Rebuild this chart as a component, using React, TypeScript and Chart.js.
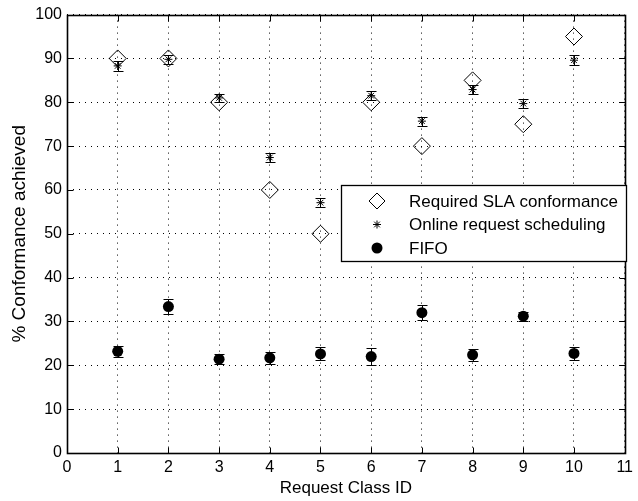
import React, { useEffect, useRef } from 'react';
import { Chart, registerables } from 'chart.js';

Chart.register(...registerables);

const classIds = [1, 2, 3, 4, 5, 6, 7, 8, 9, 10];
const requiredSla = [90, 90, 80, 60, 50, 80, 70, 85, 75, 95];
const onlineSched = [88.3, 89.8, 81, 67.4, 57.1, 81.5, 75.7, 82.9, 79.7, 89.6];
const onlineErr = [1.1, 1.0, 1.0, 1.1, 1.0, 1.0, 1.0, 1.0, 1.0, 1.2];
const fifo = [23.2, 33.4, 21.4, 21.7, 22.6, 22.0, 32.0, 22.4, 31.2, 22.7];
const fifoErr = [1.25, 1.8, 1.2, 1.4, 1.5, 1.9, 1.7, 1.4, 1.0, 1.5];
const seriesNames = ['Required SLA conformance', 'Online request scheduling', 'FIFO'];
const xTicks = [0, 1, 2, 3, 4, 5, 6, 7, 8, 9, 10, 11];
const yTicks = [0, 10, 20, 30, 40, 50, 60, 70, 80, 90, 100];

const FONT = '"Liberation Sans", Arial, sans-serif';

function drawMarker(ctx: CanvasRenderingContext2D, kind: number, x: number, y: number) {
  ctx.save();
  ctx.strokeStyle = '#000';
  ctx.fillStyle = '#000';
  ctx.lineWidth = 1;
  if (kind === 0) {
    const r = 8;
    ctx.beginPath();
    ctx.moveTo(x, y - r);
    ctx.lineTo(x + r, y);
    ctx.lineTo(x, y + r);
    ctx.lineTo(x - r, y);
    ctx.closePath();
    ctx.stroke();
  } else if (kind === 1) {
    const r = 4;
    ctx.beginPath();
    ctx.moveTo(x - r, y); ctx.lineTo(x + r, y);
    ctx.moveTo(x, y - r); ctx.lineTo(x, y + r);
    const d = r * Math.SQRT1_2;
    ctx.moveTo(x - d, y - d); ctx.lineTo(x + d, y + d);
    ctx.moveTo(x - d, y + d); ctx.lineTo(x + d, y - d);
    ctx.stroke();
  } else {
    ctx.beginPath();
    ctx.arc(x, y, 5.5, 0, Math.PI * 2);
    ctx.fill();
  }
  ctx.restore();
}

const errorBarPlugin = {
  id: 'errorBars',
  afterDatasetsDraw(chart: any) {
    const ctx = chart.ctx;
    const xs = chart.scales.x;
    const ys = chart.scales.y;
    const sets = [
      { vals: onlineSched, errs: onlineErr },
      { vals: fifo, errs: fifoErr },
    ];
    ctx.save();
    ctx.strokeStyle = '#000';
    ctx.lineWidth = 1;
    sets.forEach((s) => {
      s.vals.forEach((v, i) => {
        const px = Math.round(xs.getPixelForValue(classIds[i])) + 0.5;
        const yt = Math.round(ys.getPixelForValue(v + s.errs[i])) + 0.5;
        const yb = Math.round(ys.getPixelForValue(v - s.errs[i])) + 0.5;
        ctx.beginPath();
        ctx.moveTo(px, yt); ctx.lineTo(px, yb);
        ctx.moveTo(px - 5, yt); ctx.lineTo(px + 5, yt);
        ctx.moveTo(px - 5, yb); ctx.lineTo(px + 5, yb);
        ctx.stroke();
      });
    });
    ctx.restore();
  },
};

const framePlugin = {
  id: 'frame',
  afterDraw(chart: any) {
    const ctx = chart.ctx;
    const { left, right, top, bottom } = chart.chartArea;
    const xs = chart.scales.x;
    const ys = chart.scales.y;
    const L = Math.round(left) + 0.5;
    const R = Math.round(right) + 0.5;
    const T = Math.round(top) + 0.5;
    const B = Math.round(bottom) + 0.5;
    ctx.save();
    ctx.strokeStyle = '#000';
    ctx.lineWidth = 1;
    ctx.beginPath();
    xTicks.forEach((t) => {
      const px = Math.round(xs.getPixelForValue(t)) + 0.5;
      ctx.moveTo(px, B); ctx.lineTo(px, B - 6);
      ctx.moveTo(px, T); ctx.lineTo(px, T + 6);
    });
    yTicks.forEach((t) => {
      const py = Math.round(ys.getPixelForValue(t)) + 0.5;
      ctx.moveTo(L, py); ctx.lineTo(L + 6, py);
      ctx.moveTo(R, py); ctx.lineTo(R - 6, py);
    });
    ctx.stroke();
    ctx.lineWidth = 1.6;
    ctx.strokeRect(L, T, R - L, B - T);

    // legend
    const bx = 341.5, by = 185.5, bw = 285, bh = 76;
    ctx.fillStyle = '#fff';
    ctx.fillRect(bx, by, bw, bh);
    ctx.lineWidth = 1.3;
    ctx.strokeStyle = '#000';
    ctx.strokeRect(bx, by, bw, bh);
    ctx.font = '17px ' + FONT;
    ctx.fillStyle = '#000';
    ctx.textBaseline = 'middle';
    ctx.textAlign = 'left';
    seriesNames.forEach((name, i) => {
      const ry = 201 + i * 23.5;
      drawMarker(ctx, i, 377, ry);
      ctx.fillStyle = '#000';
      ctx.fillText(name, 409, ry + 1);
    });
    ctx.restore();
  },
};

export default function App() {
  const ref = useRef<HTMLCanvasElement | null>(null);
  useEffect(() => {
    document.body.style.margin = '0';
    const canvas = ref.current!;
    const chart = new Chart(canvas, {
      type: 'scatter',
      data: {
        datasets: [
          {
            label: seriesNames[0],
            data: classIds.map((x, i) => ({ x, y: requiredSla[i] })),
            pointStyle: 'rectRot',
            pointRadius: 8.5,
            borderColor: '#000',
            backgroundColor: 'rgba(0,0,0,0)',
            pointBorderWidth: 1,
          },
          {
            label: seriesNames[1],
            data: classIds.map((x, i) => ({ x, y: onlineSched[i] })),
            pointStyle: 'star',
            pointRadius: 4,
            borderColor: '#000',
            backgroundColor: '#000',
            pointBorderWidth: 1,
          },
          {
            label: seriesNames[2],
            data: classIds.map((x, i) => ({ x, y: fifo[i] })),
            pointStyle: 'circle',
            pointRadius: 5.5,
            borderColor: '#000',
            backgroundColor: '#000',
            pointBorderWidth: 0,
          },
        ],
      },
      options: {
        responsive: false,
        animation: false,
        devicePixelRatio: 1,
        layout: { padding: { left: 0, right: 9, top: 11, bottom: 0 } },
        plugins: { legend: { display: false }, tooltip: { enabled: false } },
        scales: {
          x: {
            type: 'linear',
            min: 0,
            max: 11,
            afterFit: (s: any) => { s.height = 48; },
            afterBuildTicks: (s: any) => { s.ticks = xTicks.map((v) => ({ value: v })); },
            ticks: { stepSize: 1, padding: 5, color: '#000', font: { family: FONT, size: 16 } },
            grid: { color: '#000', lineWidth: 1, drawTicks: false },
            border: { display: false, dash: [1, 5] },
            title: {
              display: true,
              text: 'Request Class ID',
              color: '#000',
              font: { family: FONT, size: 17 },
              padding: { top: 0, bottom: 2 },
            },
          },
          y: {
            type: 'linear',
            min: 0,
            max: 100,
            afterFit: (s: any) => { s.width = 67; },
            afterBuildTicks: (s: any) => { s.ticks = yTicks.map((v) => ({ value: v })); },
            ticks: { stepSize: 10, padding: 5, color: '#000', font: { family: FONT, size: 16 } },
            grid: { color: '#000', lineWidth: 1, drawTicks: false },
            border: { display: false, dash: [1, 5] },
            title: {
              display: true,
              text: '% Conformance achieved',
              color: '#000',
              font: { family: FONT, size: 19 },
              padding: { top: 8, bottom: 0 },
            },
          },
        },
      },
      plugins: [errorBarPlugin, framePlugin],
    });
    return () => chart.destroy();
  }, []);
  return <canvas ref={ref} width={638} height={501} style={{ display: 'block' }} />;
}
